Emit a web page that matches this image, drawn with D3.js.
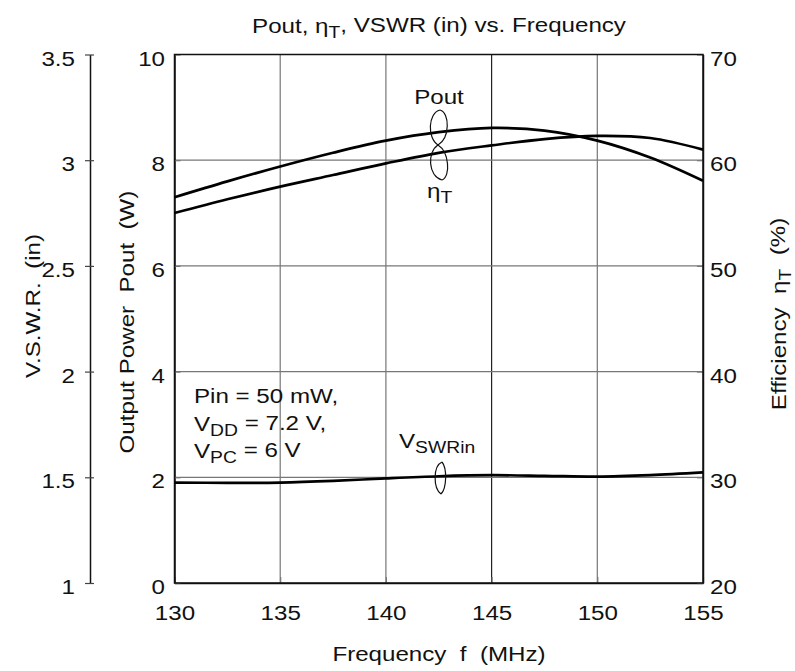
<!DOCTYPE html>
<html><head><meta charset="utf-8">
<script src="https://cdn.jsdelivr.net/npm/d3@7"></script>
<style>
body{margin:0;background:#fff;}
svg{font-family:"Liberation Sans",Arial,sans-serif;}
text{white-space:pre;}
</style></head>
<body>
<svg id="c" width="795" height="671"></svg>
<script>
const freq = [130,132.5,135,137.5,140,142.5,145,147.5,150,152.5,155];
const pout = [7.30,7.60,7.88,8.14,8.37,8.53,8.61,8.56,8.37,8.05,7.61];
const eff  = [55.0,56.3,57.5,58.6,59.7,60.7,61.4,62.0,62.3,62.1,61.0];
const vswr = [1.475,1.474,1.475,1.483,1.495,1.505,1.51,1.507,1.503,1.51,1.523];
const xTicks = [130,135,140,145,150,155];
const yTicks = [0,2,4,6,8,10];
const effTicks = [20,30,40,50,60,70];
const vswrTicks = [1,1.5,2,2.5,3,3.5];

const svg = d3.select("#c");
const L=174.5, R=703, T=54.5, B=583;
const SX = 1.15; // horizontal stretch of lettering
const fs = 21;
const x = d3.scaleLinear().domain([130,155]).range([L,R]);
const y = d3.scaleLinear().domain([0,10]).range([B,T]);
const yE = d3.scaleLinear().domain([20,70]).range([B,T]);
const yV = d3.scaleLinear().domain([1,3.5]).range([B,T]);

// grid
const g = svg.append("g");
g.selectAll(".vg").data(xTicks.slice(1,-1)).join("line")
 .attr("x1",d=>x(d)).attr("x2",d=>x(d)).attr("y1",T).attr("y2",B)
 .attr("stroke",d=>d===145?"#222":"#777").attr("stroke-width",1.2);
g.selectAll(".hg").data(yTicks.slice(1,-1)).join("line")
 .attr("y1",d=>y(d)).attr("y2",d=>y(d)).attr("x1",L).attr("x2",R)
 .attr("stroke","#777").attr("stroke-width",1.2);

// axes
const ax = svg.append("g");
const bottom = ax.append("g").attr("transform",`translate(0,${B})`)
 .call(d3.axisBottom(x).tickValues(xTicks).tickSizeInner(-6).tickSizeOuter(0));
bottom.selectAll(".tick text").attr("y",0).attr("dy",0)
 .attr("transform",`translate(0,37) scale(${SX},1)`);
const left = ax.append("g").attr("transform",`translate(${L},0)`)
 .call(d3.axisLeft(y).tickValues(yTicks).tickSizeInner(-6).tickSizeOuter(0));
left.selectAll(".tick text").attr("x",0).attr("dy","0.5em")
 .attr("transform",`translate(-9.5,0) scale(${SX},1)`);
const right = ax.append("g").attr("transform",`translate(${R},0)`)
 .call(d3.axisRight(yE).tickValues(effTicks).tickSizeInner(-6).tickSizeOuter(0));
right.selectAll(".tick text").attr("x",0).attr("dy","0.5em")
 .attr("transform",`translate(7,0) scale(${SX},1)`);
const vax = ax.append("g").attr("transform",`translate(90,0)`)
 .call(d3.axisLeft(yV).tickValues(vswrTicks).tickFormat(d3.format("")).tickSizeInner(5).tickSizeOuter(0));
vax.selectAll(".tick line").attr("x1",-5).attr("x2",4);
vax.selectAll(".tick text").attr("x",0).attr("dy","0.5em")
 .attr("transform",`translate(-15,0) scale(${SX},1)`);
[bottom,left,right,vax].forEach(a=>{
  a.selectAll("text").attr("fill","#111").style("font-family","inherit").style("font-size",fs+"px");
  a.selectAll("line").attr("stroke","#777").attr("stroke-width",1.2);
  a.select(".domain").attr("stroke","#111").attr("stroke-width",1.5);
});
vax.selectAll(".tick line").attr("stroke","#444");
// frame
svg.append("rect").attr("x",L).attr("y",T).attr("width",R-L).attr("height",B-T)
 .attr("fill","none").attr("stroke","#111").attr("stroke-width",1.5);

// curves
const line = d3.line().curve(d3.curveCatmullRom.alpha(0.5));
const pts = (ys, sc) => freq.map((f,i)=>[x(f), sc(ys[i])]);
[[pout,y],[eff,yE],[vswr,yV]].forEach(([ys,sc])=>{
  svg.append("path").attr("d",line(pts(ys,sc))).attr("fill","none")
   .attr("stroke","#000").attr("stroke-width",2.7);
});

// text helpers
function sub(sel, parts){ // parts: [text, isSub]
  parts.forEach(([t,s],i)=>{
    const ts = sel.append("tspan").text(t);
    if(s){ ts.attr("dy","0.3em").style("font-size","0.8em"); }
    else if(i>0 && parts[i-1][1]){ ts.attr("dy","-0.3em"); }
  });
  return sel;
}
function txt(px,py,anchor,rot){
  return svg.append("text").attr("text-anchor",anchor||"start")
   .attr("transform",`translate(${px},${py})`+(rot?` rotate(${rot})`:"")+` scale(${SX},1)`)
   .style("font-size",fs+"px").attr("fill","#111");
}

// title
sub(txt(439,33,"middle"),[["Pout, η",false],["T",true],[", VSWR (in) vs. Frequency",false]]);

// axis titles
txt(439,661,"middle").text("Frequency  f  (MHz)");
txt(40,306,"middle",-90).text("V.S.W.R.  (in)");
txt(134,322,"middle",-90).text("Output Power  Pout  (W)");
sub(txt(786,314,"middle",-90),[["Efficiency  η",false],["T",true],["  (%)",false]]);

// annotations
txt(439,104,"middle").text("Pout");
sub(txt(427,198,"start"),[["η",false],["T",true]]);
const loop = svg.append("g").attr("fill","none").attr("stroke","#111").attr("stroke-width",1.2);
loop.append("path").attr("d","M440,110 C450,113 450,138 438,145 C427,152 428,176 442,180");
loop.append("path").attr("d","M440,110 C428,113 427,138 438,145 C449,152 451,176 442,180");
loop.append("path").attr("d","M442,462 C433,466 433,488 441,494");
loop.append("path").attr("d","M442,462 C447,468 447,488 441,494");

txt(194,403,"start").text("Pin = 50 mW,");
sub(txt(194,431,"start"),[["V",false],["DD",true],[" = 7.2 V,",false]]);
sub(txt(194,458,"start"),[["V",false],["PC",true],[" = 6 V",false]]);
sub(txt(399,448,"start"),[["V",false],["SWRin",true]]);
</script>
</body></html>
